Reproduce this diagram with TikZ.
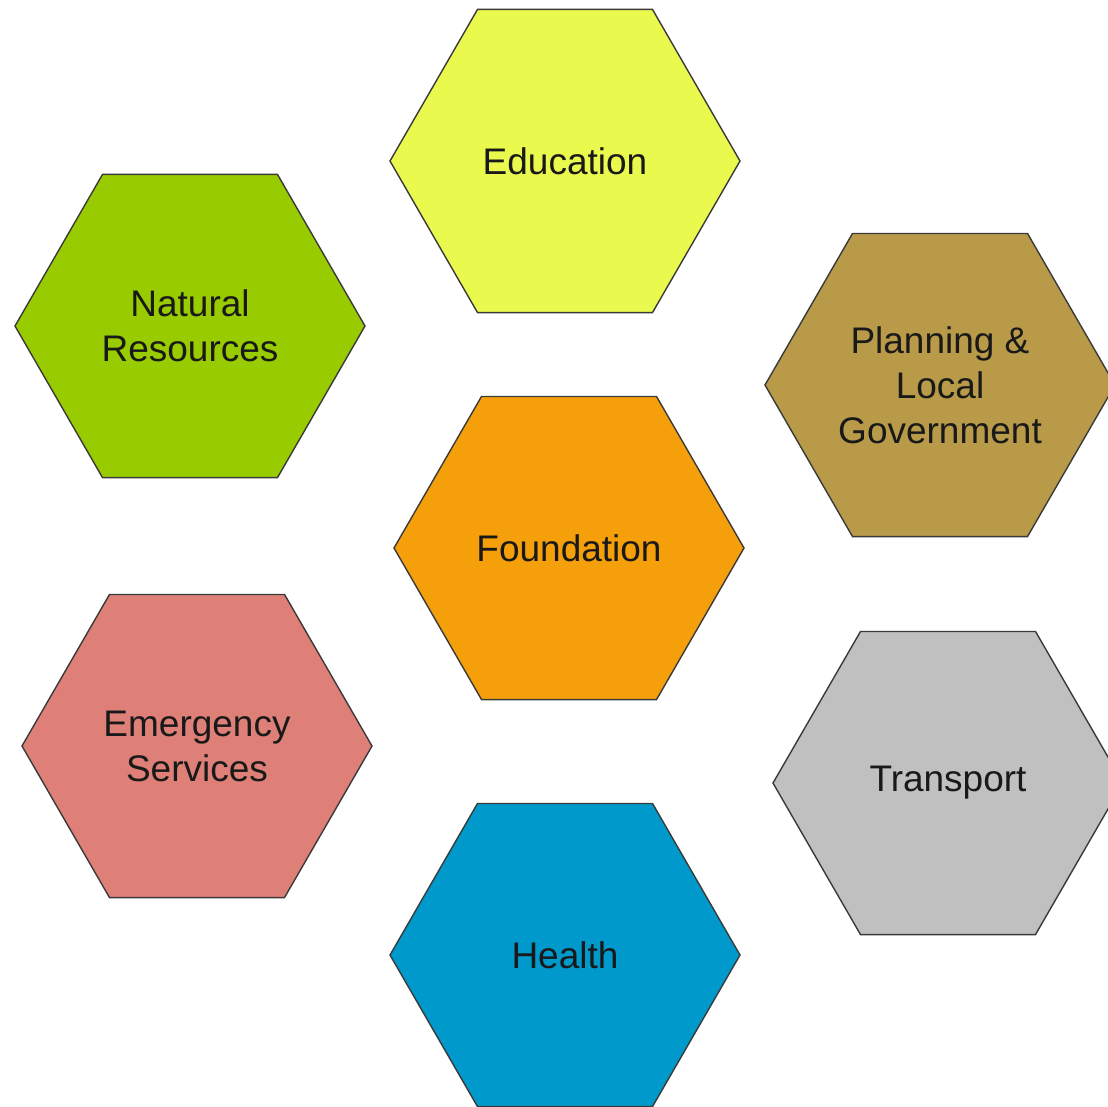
\documentclass[tikz,border=0pt]{standalone}
\usepackage{fontspec}
\setmainfont{Liberation Sans}
\usetikzlibrary{shapes.geometric}
\definecolor{cEdu}{HTML}{EAF94E}
\definecolor{cNat}{HTML}{99CC00}
\definecolor{cPlan}{HTML}{B89A48}
\definecolor{cFound}{HTML}{F5A00A}
\definecolor{cEmer}{HTML}{DE8078}
\definecolor{cTrans}{HTML}{C0C0C0}
\definecolor{cHealth}{HTML}{0099CC}
\definecolor{cEdge}{HTML}{3A3A3A}
\tikzset{
  hexbox/.style={regular polygon, regular polygon sides=6, minimum size=350pt,
    inner sep=0pt, outer sep=0pt, draw=cEdge, line width=1.4pt, fill=#1,
    align=center, text=black!90, font=\fontsize{37}{45}\selectfont}
}
\begin{document}
\begin{tikzpicture}[x=1pt,y=-1pt]
\useasboundingbox (0,0) rectangle (1108,1106);
\fill[white] (0,0) rectangle (1108,1106);
\clip (0,0) rectangle (1108,1106);
\node[hexbox=cEdu] (edu) at (565,161) {Education};
\node[hexbox=cNat] (nat) at (190,326) {Natural\\Resources};
\node[hexbox=cPlan] (plan) at (940,385) {Planning \&\\Local\\Government};
\node[hexbox=cFound] (found) at (569,548) {Foundation};
\node[hexbox=cEmer] (emer) at (197,746) {Emergency\\Services};
\node[hexbox=cTrans] (trans) at (948,783) {Transport};
\node[hexbox=cHealth] (health) at (565,955) {Health};
\end{tikzpicture}
\end{document}
